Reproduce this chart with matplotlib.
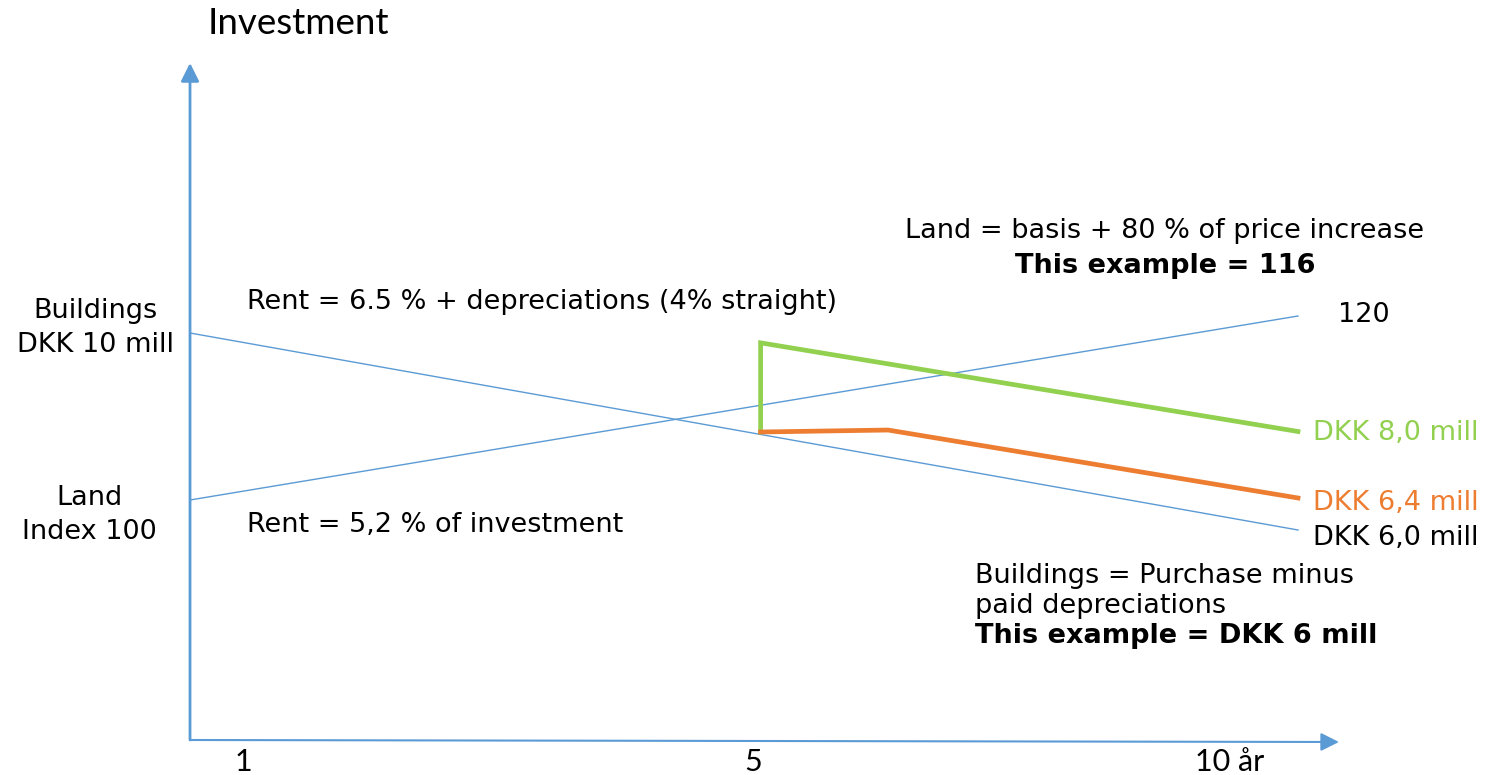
import matplotlib
matplotlib.use("Agg")
import matplotlib.pyplot as plt

# ── data (years / DKK mill / land index) ────────────────────────────────────
years_span = [0, 10]
buildings = [10.0, 6.0]          # DKK mill, straight depreciation
land_index = [100, 120]          # land price index

green_years = [5.15, 5.15, 10]   # rent incl. depreciations
green_vals = [7.99, 9.8, 8.0]
orange_years = [5.15, 6.3, 10]
orange_vals = [7.99, 8.03, 6.65]

tick_years = [0.48, 5.08, 9.38]
tick_labels = ["1", "5", "10 år"]

BLUE = "#5B9BD5"
GREEN = "#92D050"
ORANGE = "#ED7D31"

# one y scale for everything: buildings DKK mill; land index mapped onto it
def land_to_y(idx):
    pix = 500 - (idx - 100) * 9.2
    return 10 - (pix - 333) / 49.25

fig = plt.figure(figsize=(14.86, 7.75), dpi=100)
ax = fig.add_axes([0, 0, 1, 1])
ax.set_xlim(-1.715, 11.697)
ax.set_ylim(10 - 442 / 49.25, 10 + 333 / 49.25)
ax.set_axis_off()

# axes arrows
y_base = 10 - (740 - 333) / 49.25
ax.annotate("", xy=(0, 10 + (333 - 63) / 49.25), xytext=(0, y_base),
            arrowprops=dict(arrowstyle="-|>,head_length=1.1,head_width=0.55",
                            color=BLUE, lw=2.0, shrinkA=0, shrinkB=0))
ax.annotate("", xy=(10.37, y_base - 2 / 49.25), xytext=(0, y_base),
            arrowprops=dict(arrowstyle="-|>,head_length=1.1,head_width=0.55",
                            color=BLUE, lw=1.5, shrinkA=0, shrinkB=0))

ax.plot(years_span, buildings, color=BLUE, lw=1.0)
ax.plot(years_span, [land_to_y(v) for v in land_index], color=BLUE, lw=1.0)
ax.plot(green_years, green_vals, color=GREEN, lw=3.4, solid_joinstyle="miter")
ax.plot(orange_years, orange_vals, color=ORANGE, lw=3.4, solid_joinstyle="miter")

def px(x, y):
    return (x - 190) / 110.8, 10 - (y - 333) / 49.25

# x tick labels
for yr, lab in zip(tick_years, tick_labels):
    ax.text(yr, px(0, 762)[1], lab, ha="center", va="center",
            fontsize=22, family="Lato", color="black")

ax.text(*px(208, 24), "Investment", ha="left", va="center",
        fontsize=26.5, family="Lato", color="black")

txt = dict(fontsize=19.5, family="DejaVu Sans", color="black")
ax.text(*px(95, 328), "Buildings\nDKK 10 mill", ha="center", va="center",
        linespacing=1.4, **txt)
ax.text(*px(89, 515), "Land\nIndex 100", ha="center", va="center",
        linespacing=1.4, **txt)
ax.text(*px(247, 302), "Rent = 6.5 % + depreciations (4% straight)",
        ha="left", va="center", **txt)
ax.text(*px(247, 525), "Rent = 5,2 % of investment",
        ha="left", va="center", **txt)
ax.text(*px(1165, 231), "Land = basis + 80 % of price increase",
        ha="center", va="center", **txt)
ax.text(*px(1165, 266), "This example = 116", ha="center", va="center",
        fontweight="bold", **txt)
ax.text(*px(1338, 315), "120", ha="left", va="center", **txt)
ax.text(*px(1313, 433), "DKK 8,0 mill", ha="left", va="center",
        fontsize=19.5, color=GREEN)
ax.text(*px(1313, 503), "DKK 6,4 mill", ha="left", va="center",
        fontsize=19.5, color=ORANGE)
ax.text(*px(1313, 538), "DKK 6,0 mill", ha="left", va="center", **txt)
ax.text(*px(975, 591), "Buildings = Purchase minus\npaid depreciations",
        ha="left", va="center", linespacing=1.2, **txt)
ax.text(*px(975, 636), "This example = DKK 6 mill", ha="left", va="center",
        fontweight="bold", **txt)

fig.savefig("out.png", dpi=100, facecolor="white")
